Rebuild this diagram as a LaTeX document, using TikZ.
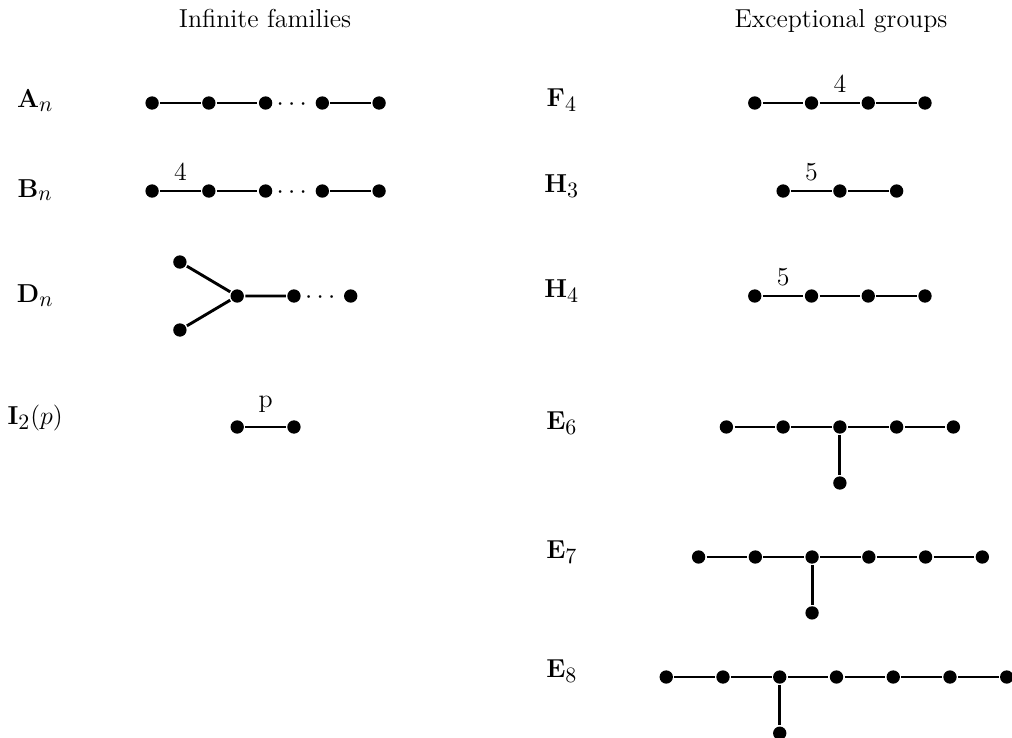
\RequirePackage{fix-cm}
\documentclass[tikz,border=0pt]{standalone}
\usepackage{amsmath}
\DeclareMathSizes{13}{13}{11}{8}

\begin{document}
\begin{tikzpicture}[font=\fontsize{13}{16}\selectfont,line width=1.45pt,
  dot/.style={circle,fill,inner sep=0pt,minimum size=.235cm},
  lab/.style={font=\fontsize{13}{16}\selectfont}]
  \useasboundingbox (0,0) rectangle (17.833,-13.004);
  \node[anchor=base] (inf) at (4.67,-.49) {Infinite families};
  \node[anchor=base] (exc) at (14.82,-.49) {Exceptional groups};
  % infinite families
  \node[lab] (An) at (.62,-1.78) {$\mathbf{A}_n$};
  \foreach \x [count=\i] in {2.68,3.68,4.68,5.68,6.68} \node[dot] (a\i) at (\x,-1.815) {};
  \node (adots) at (5.18,-1.85) {$\cdots$};
  \draw (a1)--(a2)--(a3) (a4)--(a5);
  \node[lab] (Bn) at (.62,-3.35) {$\mathbf{B}_n$};
  \foreach \x [count=\i] in {2.68,3.68,4.68,5.68,6.68} \node[dot] (b\i) at (\x,-3.366) {};
  \node (bdots) at (5.18,-3.40) {$\cdots$};
  \draw (b1)-- node[above=1pt] (b4lab) {4} (b2)--(b3) (b4)--(b5);
  \node[lab] (Dn) at (.62,-5.216) {$\mathbf{D}_n$};
  \node[dot] (d1) at (3.17,-4.617) {}; \node[dot] (d2) at (3.17,-5.815) {};
  \node[dot] (d3) at (4.18,-5.216) {}; \node[dot] (d4) at (5.18,-5.216) {};
  \node[dot] (d5) at (6.18,-5.216) {};
  \node (ddots) at (5.68,-5.25) {$\cdots$};
  \draw (d1)--(d3)--(d2) (d3)--(d4);
  \node[lab] (In) at (.62,-7.36) {$\mathbf{I}_2(p)$};
  \node[dot] (i1) at (4.18,-7.524) {}; \node[dot] (i2) at (5.18,-7.524) {};
  \draw (i1)-- node[above=3pt] (plab) {p} (i2);
  % exceptional groups
  \node[lab] (F4) at (9.90,-1.76) {$\mathbf{F}_4$};
  \foreach \x [count=\i] in {13.30,14.30,15.30,16.30} \node[dot] (f\i) at (\x,-1.815) {};
  \draw (f1)--(f2)-- node[above=1pt] (f4lab) {4} (f3)--(f4);
  \node[lab] (H3) at (9.90,-3.28) {$\mathbf{H}_3$};
  \foreach \x [count=\i] in {13.80,14.80,15.80} \node[dot] (h\i) at (\x,-3.366) {};
  \draw (h1)-- node[above=1pt] (h3lab) {5} (h2)--(h3);
  \node[lab] (H4) at (9.90,-5.13) {$\mathbf{H}_4$};
  \foreach \x [count=\i] in {13.30,14.30,15.30,16.30} \node[dot] (k\i) at (\x,-5.216) {};
  \draw (k1)-- node[above=1pt] (h4lab) {5} (k2)--(k3)--(k4);
  \node[lab] (E6) at (9.90,-7.45) {$\mathbf{E}_6$};
  \foreach \x [count=\i] in {12.80,13.80,14.80,15.80,16.80} \node[dot] (e\i) at (\x,-7.524) {};
  \node[dot] (e0) at (14.80,-8.511) {};
  \draw (e1)--(e2)--(e3)--(e4)--(e5) (e3)--(e0);
  \node[lab] (E7) at (9.90,-9.73) {$\mathbf{E}_7$};
  \foreach \x [count=\i] in {12.31,13.31,14.31,15.31,16.31,17.31} \node[dot] (s\i) at (\x,-9.815) {};
  \node[dot] (s0) at (14.31,-10.80) {};
  \draw (s1)--(s2)--(s3)--(s4)--(s5)--(s6) (s3)--(s0);
  \node[lab] (E8) at (9.90,-11.82) {$\mathbf{E}_8$};
  \foreach \x [count=\i] in {11.74,12.74,13.74,14.74,15.74,16.74,17.74} \node[dot] (g\i) at (\x,-11.93) {};
  \node[dot] (g0) at (13.74,-12.92) {};
  \draw (g1)--(g2)--(g3)--(g4)--(g5)--(g6)--(g7) (g3)--(g0);
\end{tikzpicture}
\end{document}
